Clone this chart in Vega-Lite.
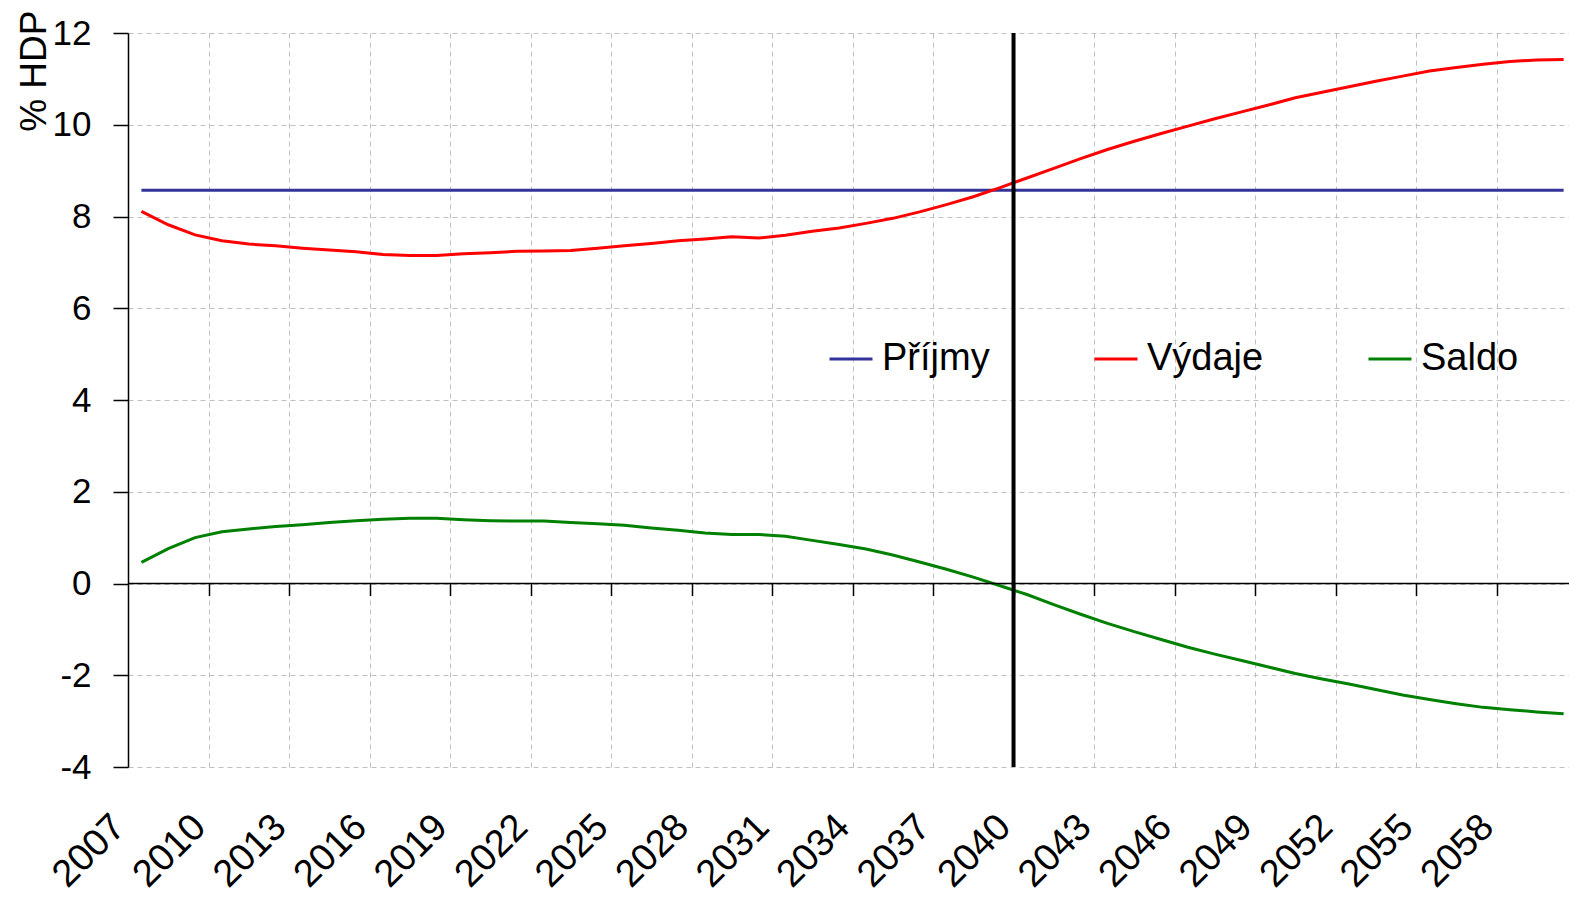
{
  "$schema": "https://vega.github.io/schema/vega-lite/v6.json",
  "width": 1441,
  "height": 734,
  "autosize": {"type": "none"},
  "padding": {"left": 128, "top": 33, "right": 0, "bottom": 134},
  "background": "white",
  "config": {"view": {"stroke": null}, "font": "Liberation Sans"},
  "datasets": {
    "rows": [
      {"year": 2007, "Příjmy": 8.57, "Výdaje": 8.11, "Saldo": 0.46},
      {"year": 2008, "Příjmy": 8.57, "Výdaje": 7.82, "Saldo": 0.76},
      {"year": 2009, "Příjmy": 8.57, "Výdaje": 7.60, "Saldo": 1.00},
      {"year": 2010, "Příjmy": 8.57, "Výdaje": 7.47, "Saldo": 1.13},
      {"year": 2011, "Příjmy": 8.57, "Výdaje": 7.40, "Saldo": 1.19},
      {"year": 2012, "Příjmy": 8.57, "Výdaje": 7.36, "Saldo": 1.24},
      {"year": 2013, "Příjmy": 8.57, "Výdaje": 7.31, "Saldo": 1.28},
      {"year": 2014, "Příjmy": 8.57, "Výdaje": 7.27, "Saldo": 1.33},
      {"year": 2015, "Příjmy": 8.57, "Výdaje": 7.23, "Saldo": 1.37},
      {"year": 2016, "Příjmy": 8.57, "Výdaje": 7.17, "Saldo": 1.40},
      {"year": 2017, "Příjmy": 8.57, "Výdaje": 7.15, "Saldo": 1.42},
      {"year": 2018, "Příjmy": 8.57, "Výdaje": 7.15, "Saldo": 1.42},
      {"year": 2019, "Příjmy": 8.57, "Výdaje": 7.19, "Saldo": 1.39},
      {"year": 2020, "Příjmy": 8.57, "Výdaje": 7.21, "Saldo": 1.37},
      {"year": 2021, "Příjmy": 8.57, "Výdaje": 7.24, "Saldo": 1.36},
      {"year": 2022, "Příjmy": 8.57, "Výdaje": 7.25, "Saldo": 1.36},
      {"year": 2023, "Příjmy": 8.57, "Výdaje": 7.26, "Saldo": 1.33},
      {"year": 2024, "Příjmy": 8.57, "Výdaje": 7.31, "Saldo": 1.30},
      {"year": 2025, "Příjmy": 8.57, "Výdaje": 7.36, "Saldo": 1.27},
      {"year": 2026, "Příjmy": 8.57, "Výdaje": 7.41, "Saldo": 1.21},
      {"year": 2027, "Příjmy": 8.57, "Výdaje": 7.47, "Saldo": 1.16},
      {"year": 2028, "Příjmy": 8.57, "Výdaje": 7.51, "Saldo": 1.10},
      {"year": 2029, "Příjmy": 8.57, "Výdaje": 7.56, "Saldo": 1.07},
      {"year": 2030, "Příjmy": 8.57, "Výdaje": 7.53, "Saldo": 1.07},
      {"year": 2031, "Příjmy": 8.57, "Výdaje": 7.59, "Saldo": 1.03},
      {"year": 2032, "Příjmy": 8.57, "Výdaje": 7.68, "Saldo": 0.94},
      {"year": 2033, "Příjmy": 8.57, "Výdaje": 7.75, "Saldo": 0.85},
      {"year": 2034, "Příjmy": 8.57, "Výdaje": 7.85, "Saldo": 0.75},
      {"year": 2035, "Příjmy": 8.57, "Výdaje": 7.96, "Saldo": 0.62},
      {"year": 2036, "Příjmy": 8.57, "Výdaje": 8.10, "Saldo": 0.47},
      {"year": 2037, "Příjmy": 8.57, "Výdaje": 8.26, "Saldo": 0.31},
      {"year": 2038, "Příjmy": 8.57, "Výdaje": 8.43, "Saldo": 0.14},
      {"year": 2039, "Příjmy": 8.57, "Výdaje": 8.63, "Saldo": -0.05},
      {"year": 2040, "Příjmy": 8.57, "Výdaje": 8.84, "Saldo": -0.24},
      {"year": 2041, "Příjmy": 8.57, "Výdaje": 9.05, "Saldo": -0.46},
      {"year": 2042, "Příjmy": 8.57, "Výdaje": 9.26, "Saldo": -0.67},
      {"year": 2043, "Příjmy": 8.57, "Výdaje": 9.46, "Saldo": -0.87},
      {"year": 2044, "Příjmy": 8.57, "Výdaje": 9.64, "Saldo": -1.05},
      {"year": 2045, "Příjmy": 8.57, "Výdaje": 9.81, "Saldo": -1.22},
      {"year": 2046, "Příjmy": 8.57, "Výdaje": 9.97, "Saldo": -1.39},
      {"year": 2047, "Příjmy": 8.57, "Výdaje": 10.13, "Saldo": -1.54},
      {"year": 2048, "Příjmy": 8.57, "Výdaje": 10.28, "Saldo": -1.68},
      {"year": 2049, "Příjmy": 8.57, "Výdaje": 10.43, "Saldo": -1.82},
      {"year": 2050, "Příjmy": 8.57, "Výdaje": 10.59, "Saldo": -1.96},
      {"year": 2051, "Příjmy": 8.57, "Výdaje": 10.71, "Saldo": -2.08},
      {"year": 2052, "Příjmy": 8.57, "Výdaje": 10.83, "Saldo": -2.19},
      {"year": 2053, "Příjmy": 8.57, "Výdaje": 10.95, "Saldo": -2.31},
      {"year": 2054, "Příjmy": 8.57, "Výdaje": 11.06, "Saldo": -2.43},
      {"year": 2055, "Příjmy": 8.57, "Výdaje": 11.17, "Saldo": -2.53},
      {"year": 2056, "Příjmy": 8.57, "Výdaje": 11.25, "Saldo": -2.62},
      {"year": 2057, "Příjmy": 8.57, "Výdaje": 11.32, "Saldo": -2.70},
      {"year": 2058, "Příjmy": 8.57, "Výdaje": 11.38, "Saldo": -2.75},
      {"year": 2059, "Příjmy": 8.57, "Výdaje": 11.41, "Saldo": -2.80},
      {"year": 2060, "Příjmy": 8.57, "Výdaje": 11.42, "Saldo": -2.84}
    ],
    "marker": [{"t": 2039.5}]
  },
  "layer": [
    {
      "data": {"name": "rows"},
      "transform": [{"fold": ["Příjmy", "Výdaje", "Saldo"], "as": ["series", "value"]}],
      "mark": {"type": "line", "strokeWidth": 3, "clip": true},
      "encoding": {
        "x": {
          "field": "year",
          "type": "quantitative",
          "scale": {"domain": [2006.5, 2060.2], "nice": false, "zero": false},
          "axis": {
            "orient": "bottom",
            "values": [2006.5, 2009.5, 2012.5, 2015.5, 2018.5, 2021.5, 2024.5, 2027.5, 2030.5, 2033.5, 2036.5, 2039.5, 2042.5, 2045.5, 2048.5, 2051.5, 2054.5, 2057.5],
            "labelExpr": "format(datum.value + 0.5, 'd')",
            "labelAngle": -45,
            "labelAlign": "right",
            "labelBaseline": "middle",
            "labelFontSize": 38,
            "labelFont": "Liberation Sans",
            "labelColor": "black",
            "labelPadding": 54,
            "labelOffset": -9,
            "labelOverlap": false,
            "labelFlush": false,
            "ticks": false,
            "tickSize": 0,
            "domain": false,
            "grid": true,
            "gridColor": "#c0c0c0",
            "gridDash": [5, 4],
            "gridWidth": 1,
            "title": null
          }
        },
        "y": {
          "field": "value",
          "type": "quantitative",
          "scale": {"domain": [-4, 12], "nice": false, "zero": false},
          "axis": {
            "values": [-4, -2, 0, 2, 4, 6, 8, 10, 12],
            "labelExpr": "toString(datum.value)",
            "title": "% HDP",
            "titleFont": "Liberation Sans",
            "titleFontSize": 37,
            "titleFontWeight": "normal",
            "titleColor": "black",
            "titleAngle": -90,
            "titleAlign": "right",
            "titleBaseline": "alphabetic",
            "titleX": -83,
            "titleY": -23,
            "labelFont": "Liberation Sans",
            "labelFontSize": 35,
            "labelColor": "black",
            "labelPadding": 22,
            "labelOverlap": false,
            "labelFlush": false,
            "tickSize": 15,
            "tickColor": "black",
            "tickWidth": 1.5,
            "domainColor": "black",
            "domainWidth": 1.5,
            "grid": true,
            "gridColor": "#c0c0c0",
            "gridDash": [5, 4],
            "gridWidth": 1
          }
        },
        "color": {
          "field": "series",
          "type": "nominal",
          "scale": {"domain": ["Příjmy", "Výdaje", "Saldo"], "range": ["#333399", "#ff0000", "#008000"]},
          "legend": {
            "orient": "none",
            "legendX": 700,
            "legendY": 303,
            "direction": "horizontal",
            "title": null,
            "symbolType": "stroke",
            "symbolSize": 1849,
            "symbolStrokeWidth": 3,
            "labelFont": "Liberation Sans",
            "labelFontSize": 38,
            "labelColor": "black",
            "labelOffset": 8,
            "labelLimit": 400,
            "columnPadding": 98,
            "padding": 0
          }
        }
      }
    },
    {
      "data": {"values": [{}]},
      "mark": {"type": "rule", "color": "black", "strokeWidth": 1.5},
      "encoding": {"y": {"datum": 0, "type": "quantitative"}}
    },
    {
      "data": {"name": "marker"},
      "mark": {"type": "rule", "color": "black", "strokeWidth": 4},
      "encoding": {
        "x": {
          "field": "t",
          "type": "quantitative",
          "axis": {
            "orient": "bottom",
            "offset": -183.5,
            "values": [2009.5, 2012.5, 2015.5, 2018.5, 2021.5, 2024.5, 2027.5, 2030.5, 2033.5, 2036.5, 2039.5, 2042.5, 2045.5, 2048.5, 2051.5, 2054.5, 2057.5],
            "domain": false,
            "labels": false,
            "grid": false,
            "ticks": true,
            "tickSize": 12,
            "tickColor": "black",
            "tickWidth": 1.5,
            "title": null
          }
        }
      }
    }
  ],
  "resolve": {"axis": {"x": "independent"}}
}
